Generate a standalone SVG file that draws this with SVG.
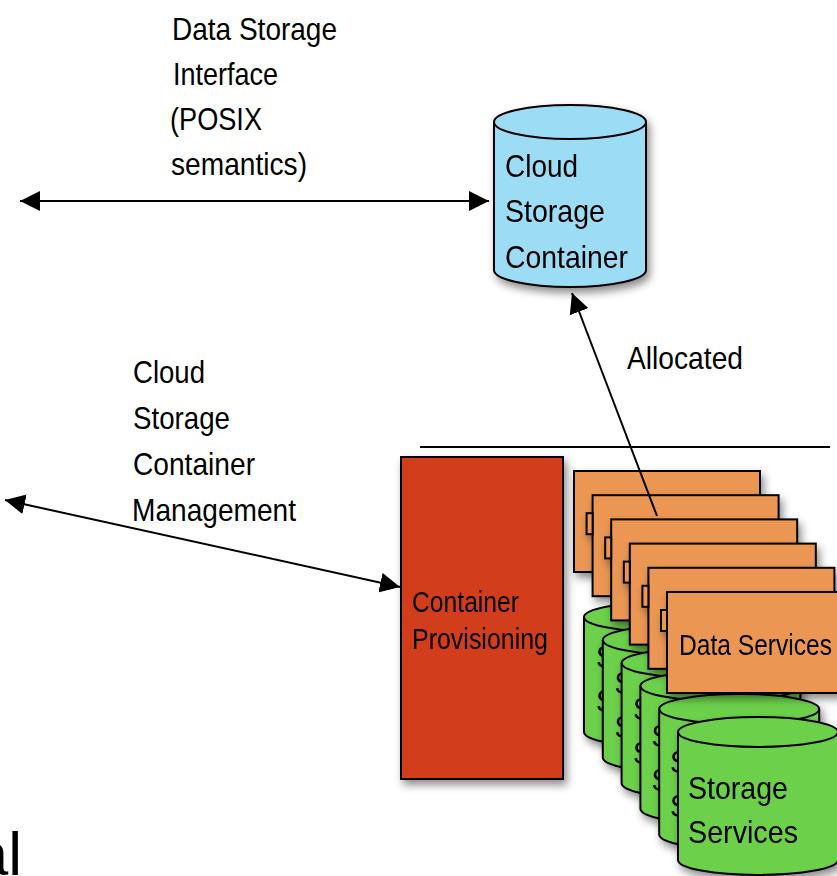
<svg xmlns="http://www.w3.org/2000/svg" width="837" height="876" viewBox="0 0 837 876">
<style>
.t{font-family:"Liberation Sans",Arial,sans-serif;font-size:32px;fill:#000}
.s{font-size:30px}
.ln{fill:none;stroke:#000;stroke-width:2}
.cyl{fill:#6CD04C;stroke:#000;stroke-width:2}
.cylb{fill:#9DDCF5;stroke:#000;stroke-width:2}
.box{fill:#EB9752;stroke:#000;stroke-width:2}
.tab{fill:#EB9752;stroke:#000;stroke-width:2}
.red{fill:#D23C1F;stroke:#000;stroke-width:2}
</style>
<defs>
<filter id="sh" x="-15%" y="-15%" width="140%" height="140%">
<feDropShadow dx="3" dy="5" stdDeviation="4" flood-color="#000" flood-opacity="0.45"/>
</filter>
<marker id="ah" viewBox="0 0 20 20" refX="20" refY="10" markerWidth="20" markerHeight="20" markerUnits="userSpaceOnUse" orient="auto-start-reverse">
<path d="M0,0 L20,10 L0,20 z" fill="#000"/>
</marker>
</defs>
<rect width="837" height="876" fill="#fff"/>

<g id="label-interface">
<text class="t" x="172" y="40" textLength="165" lengthAdjust="spacingAndGlyphs">Data Storage</text>
<text class="t" x="173" y="85" textLength="105" lengthAdjust="spacingAndGlyphs">Interface</text>
<text class="t" x="170" y="130" textLength="92" lengthAdjust="spacingAndGlyphs">(POSIX</text>
<text class="t" x="171" y="175" textLength="136" lengthAdjust="spacingAndGlyphs">semantics)</text>
</g>

<g id="label-management">
<text class="t" x="133" y="383" textLength="72" lengthAdjust="spacingAndGlyphs">Cloud</text>
<text class="t" x="133" y="429" textLength="97" lengthAdjust="spacingAndGlyphs">Storage</text>
<text class="t" x="133" y="475" textLength="122" lengthAdjust="spacingAndGlyphs">Container</text>
<text class="t" x="132" y="521" textLength="164" lengthAdjust="spacingAndGlyphs">Management</text>
</g>

<g id="label-allocated">
<text class="t" x="627" y="369" textLength="116" lengthAdjust="spacingAndGlyphs">Allocated</text>
</g>

<g id="label-al">
<text class="t" x="22" y="875" text-anchor="end" style="font-size:62px">al</text>
</g>

<g id="cloud-storage-container" filter="url(#sh)">
<path class="cylb" d="M494,122 V270 A76,17 0 0 0 646,270 V122 A76,17 0 0 0 494,122 Z"/>
<path class="ln" d="M494,122 A76,17 0 0 0 646,122"/>
<text class="t" x="505" y="177" textLength="73" lengthAdjust="spacingAndGlyphs">Cloud</text>
<text class="t" x="505" y="222" textLength="100" lengthAdjust="spacingAndGlyphs">Storage</text>
<text class="t" x="505" y="268" textLength="123" lengthAdjust="spacingAndGlyphs">Container</text>
</g>

<g id="divider">
<line class="ln" x1="420" y1="447" x2="830" y2="447"/>
</g>

<g id="container-provisioning" filter="url(#sh)">
<rect class="red" x="401" y="457" width="162" height="322"/>
<text class="t s" x="412" y="612" textLength="107" lengthAdjust="spacingAndGlyphs">Container</text>
<text class="t s" x="412" y="649" textLength="136" lengthAdjust="spacingAndGlyphs">Provisioning</text>
</g>

<g id="storage-services">
<g id="storage-1" filter="url(#sh)">
<path class="cyl" d="M584,617 V732 A80,15 0 0 0 744,732 V617 A80,15 0 0 0 584,617 Z"/>
<path class="ln" d="M584,617 A80,15 0 0 0 744,617"/>
<text class="t" x="596" y="668" textLength="100" lengthAdjust="spacingAndGlyphs">Storage</text>
<text class="t" x="596" y="712" textLength="110" lengthAdjust="spacingAndGlyphs">Services</text>
</g>
<g id="storage-2" filter="url(#sh)">
<path class="cyl" d="M602.8,640 V757.6 A80,15 0 0 0 762.8,757.6 V640 A80,15 0 0 0 602.8,640 Z"/>
<path class="ln" d="M602.8,640 A80,15 0 0 0 762.8,640"/>
<text class="t" x="614.5" y="694.2" textLength="100" lengthAdjust="spacingAndGlyphs">Storage</text>
<text class="t" x="614.5" y="738.2" textLength="110" lengthAdjust="spacingAndGlyphs">Services</text>
</g>
<g id="storage-3" filter="url(#sh)">
<path class="cyl" d="M621.6,663 V783.2 A80,15 0 0 0 781.6,783.2 V663 A80,15 0 0 0 621.6,663 Z"/>
<path class="ln" d="M621.6,663 A80,15 0 0 0 781.6,663"/>
<text class="t" x="633" y="720.4" textLength="100" lengthAdjust="spacingAndGlyphs">Storage</text>
<text class="t" x="633" y="764.4" textLength="110" lengthAdjust="spacingAndGlyphs">Services</text>
</g>
<g id="storage-4" filter="url(#sh)">
<path class="cyl" d="M640.4,686 V808.8 A80,15 0 0 0 800.4,808.8 V686 A80,15 0 0 0 640.4,686 Z"/>
<path class="ln" d="M640.4,686 A80,15 0 0 0 800.4,686"/>
<text class="t" x="651.5" y="746.6" textLength="100" lengthAdjust="spacingAndGlyphs">Storage</text>
<text class="t" x="651.5" y="790.6" textLength="110" lengthAdjust="spacingAndGlyphs">Services</text>
</g>
<g id="storage-5" filter="url(#sh)">
<path class="cyl" d="M659.2,709 V834.4 A80,15 0 0 0 819.2,834.4 V709 A80,15 0 0 0 659.2,709 Z"/>
<path class="ln" d="M659.2,709 A80,15 0 0 0 819.2,709"/>
<text class="t" x="670" y="772.8" textLength="100" lengthAdjust="spacingAndGlyphs">Storage</text>
<text class="t" x="670" y="816.8" textLength="110" lengthAdjust="spacingAndGlyphs">Services</text>
</g>
<g id="storage-6" filter="url(#sh)">
<path class="cyl" d="M678,732 V860 A80,15 0 0 0 838,860 V732 A80,15 0 0 0 678,732 Z"/>
<path class="ln" d="M678,732 A80,15 0 0 0 838,732"/>
<text class="t" x="688" y="799" textLength="100" lengthAdjust="spacingAndGlyphs">Storage</text>
<text class="t" x="688" y="843" textLength="110" lengthAdjust="spacingAndGlyphs">Services</text>
</g>
</g>

<g id="data-services">
<g id="data-1" filter="url(#sh)">
<rect class="box" x="574" y="471" width="186" height="101"/>
</g>
<g id="data-2" filter="url(#sh)">
<rect class="box" x="592.6" y="495.2" width="186" height="101"/>
<rect class="tab" x="586.6" y="513.2" width="6" height="21"/>
</g>
<g id="data-3" filter="url(#sh)">
<rect class="box" x="611.2" y="519.4" width="186" height="101"/>
<rect class="tab" x="605.2" y="537.4" width="6" height="21"/>
</g>
<g id="data-4" filter="url(#sh)">
<rect class="box" x="629.8" y="543.6" width="186" height="101"/>
<rect class="tab" x="623.8" y="561.6" width="6" height="21"/>
</g>
<g id="data-5" filter="url(#sh)">
<rect class="box" x="648.4" y="567.8" width="186" height="101"/>
<rect class="tab" x="642.4" y="585.8" width="6" height="21"/>
</g>
<g id="data-6" filter="url(#sh)">
<rect class="box" x="667" y="592" width="186" height="101"/>
<rect class="tab" x="661" y="610" width="6" height="21"/>
<text class="t s" x="679" y="655" textLength="153" lengthAdjust="spacingAndGlyphs">Data Services</text>
</g>
</g>

<g id="connectors">
<line class="ln" x1="20" y1="201" x2="489" y2="201" marker-start="url(#ah)" marker-end="url(#ah)"/>
<line class="ln" x1="5" y1="500" x2="400" y2="587" marker-start="url(#ah)" marker-end="url(#ah)"/>
<line class="ln" x1="657" y1="516" x2="572" y2="293" marker-end="url(#ah)"/>
</g>
</svg>
